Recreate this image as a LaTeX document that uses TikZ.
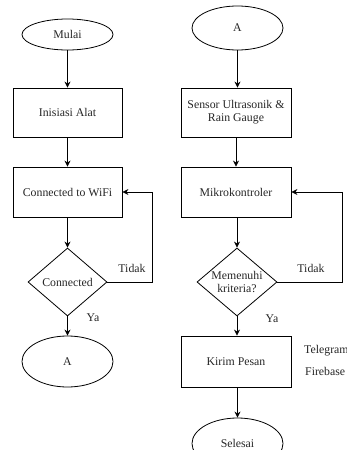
\documentclass[tikz,border=0pt]{standalone}
\usepackage{fontspec}
\setmainfont{Liberation Serif}
\usetikzlibrary{shapes.geometric,arrows.meta}
\begin{document}
\begin{tikzpicture}[x=1pt,y=-1pt,
  every node/.style={font=\fontsize{11.8}{13}\selectfont, text=black!85},
  term/.style={draw, ellipse, line width=0.8pt, minimum width=91pt, inner sep=0pt},
  proc/.style={draw, rectangle, line width=0.8pt, inner sep=0pt, align=center},
  dec/.style={draw, diamond, line width=0.8pt, minimum width=79pt, minimum height=68pt, inner sep=0pt},
  arr/.style={line width=0.8pt, -{Stealth[length=6pt,width=6pt]}},
  lin/.style={line width=0.8pt}
]
\useasboundingbox (0,0) rectangle (347,450);
% left column
\node[term, minimum height=31pt] (mulai) at (67.5,34.5) {Mulai};
\node[proc, minimum width=109pt, minimum height=49pt] (init) at (67.5,112.5) {Inisiasi Alat};
\node[proc, minimum width=109pt, minimum height=50pt] (wifi) at (67.5,192) {Connected to WiFi};
\node[dec, label={[text=black!85]center:Connected}] (d1) at (67.5,282) {};
\node[term, minimum height=51pt] (a1) at (67.5,361.5) {A};
\coordinate (fb1) at (152,282);
\draw[arr] (mulai) -- (init);
\draw[arr] (init) -- (wifi);
\draw[arr] (wifi) -- (d1);
\draw[arr] (d1) -- (a1);
\draw[arr] (d1.east) -- (fb1) |- (wifi.east);
\node (t1) at (132,268) {Tidak};
\node (y1) at (93,318) {Ya};
% right column
\node[term, minimum height=44pt] (a2) at (237.5,28) {A};
\node[proc, minimum width=110pt, minimum height=49pt] (sens) at (236,112.5) {Sensor Ultrasonik \&\\Rain Gauge};
\node[proc, minimum width=110pt, minimum height=50pt] (mk) at (236,192) {Mikrokontroler};
\node[dec, minimum width=80pt, label={[text=black!85, align=center]center:Memenuhi\\kriteria?}] (d2) at (237,282) {};
\node[proc, minimum width=110pt, minimum height=51pt] (kirim) at (236,361.5) {Kirim Pesan};
\node[term, minimum height=51pt] (sel) at (237.5,443.5) {Selesai};
\coordinate (fb2) at (342,282);
\draw[arr] (a2) -- (a2 |- sens.north);
\draw[arr] (sens) -- (mk);
\draw[arr] (mk.south -| d2) -- (d2);
\draw[arr] (d2) -- (d2 |- kirim.north);
\draw[arr] (kirim.south -| sel) -- (sel);
\draw[arr] (d2.east) -- (fb2) |- (mk.east);
\node (t2) at (311,268) {Tidak};
\node (y2) at (272,319) {Ya};
\node[anchor=west, inner sep=0pt] (tel) at (304,351) {Telegram};
\node[anchor=west, inner sep=0pt] (fire) at (305,371) {Firebase};
\end{tikzpicture}
\end{document}
